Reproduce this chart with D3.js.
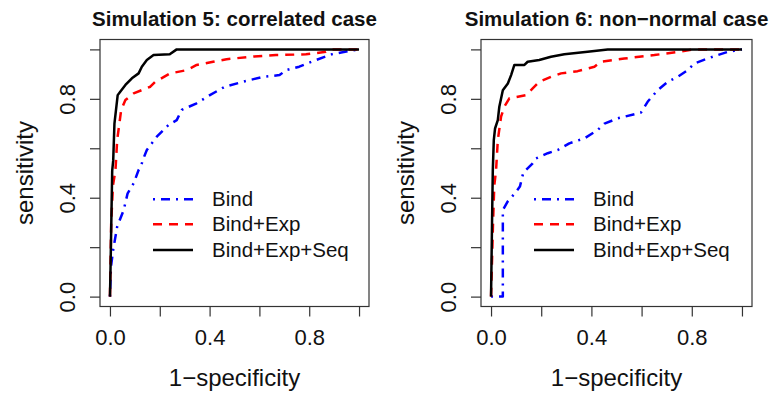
<!DOCTYPE html>
<html>
<head>
<meta charset="utf-8">
<script src="https://cdn.jsdelivr.net/npm/d3@7/dist/d3.min.js"></script>
<style>
  body { margin: 0; background: #fff; }
  svg text { font-family: "Liberation Sans", Arial, Helvetica, sans-serif; fill: #111; }
</style>
</head>
<body>
<div id="chart"></div>
<script>
// ROC points: [1 - specificity, sensitivity]
const sim5Bind = [
  [0, 0], [0.004, 0.12], [0.013, 0.19], [0.029, 0.283], [0.055, 0.35], [0.071, 0.418],
  [0.095, 0.458], [0.115, 0.512], [0.124, 0.525], [0.132, 0.553], [0.148, 0.593],
  [0.188, 0.647], [0.235, 0.694], [0.268, 0.714], [0.288, 0.755], [0.348, 0.782],
  [0.401, 0.815], [0.461, 0.849], [0.534, 0.869], [0.614, 0.889], [0.681, 0.896],
  [0.707, 0.916], [0.76, 0.93], [0.827, 0.957], [0.89, 0.98], [0.973, 0.996], [1, 1]
];
const sim5BindExp = [
  [0, 0], [0.005, 0.3], [0.012, 0.45], [0.022, 0.51], [0.029, 0.633], [0.045, 0.755],
  [0.062, 0.795], [0.095, 0.822], [0.162, 0.849], [0.182, 0.869], [0.242, 0.903],
  [0.308, 0.916], [0.348, 0.937], [0.414, 0.95], [0.468, 0.96], [0.561, 0.97],
  [0.667, 0.977], [0.787, 0.98], [0.867, 0.99], [0.89, 1], [1, 1]
];
const sim5BindExpSeq = [
  [0, 0], [0.002, 0.1], [0.009, 0.51], [0.013, 0.55], [0.018, 0.7], [0.031, 0.815],
  [0.042, 0.83], [0.062, 0.856], [0.088, 0.883], [0.115, 0.903], [0.128, 0.93],
  [0.148, 0.957], [0.175, 0.977], [0.24, 0.98], [0.268, 1], [1, 1]
];
const sim6Bind = [
  [0, 0], [0.047, 0], [0.047, 0.35], [0.066, 0.384], [0.095, 0.418], [0.115, 0.445],
  [0.128, 0.499], [0.139, 0.512], [0.166, 0.539], [0.179, 0.559], [0.226, 0.58],
  [0.266, 0.593], [0.312, 0.62], [0.372, 0.64], [0.425, 0.674], [0.452, 0.7],
  [0.505, 0.721], [0.584, 0.741], [0.598, 0.745], [0.624, 0.788], [0.664, 0.835],
  [0.704, 0.869], [0.744, 0.889], [0.784, 0.916], [0.81, 0.943], [0.863, 0.963],
  [0.903, 0.977], [0.943, 0.99], [1, 1]
];
const sim6BindExp = [
  [0, 0], [0.008, 0.3], [0.013, 0.45], [0.02, 0.51], [0.027, 0.633], [0.04, 0.728],
  [0.053, 0.768], [0.073, 0.802], [0.139, 0.815], [0.166, 0.842], [0.192, 0.869],
  [0.239, 0.889], [0.279, 0.903], [0.345, 0.912], [0.412, 0.93], [0.438, 0.95],
  [0.531, 0.963], [0.651, 0.977], [0.744, 0.99], [0.81, 1], [1, 1]
];
const sim6BindExpSeq = [
  [0, 0], [0.004, 0.3], [0.007, 0.51], [0.011, 0.633], [0.016, 0.68], [0.027, 0.714],
  [0.033, 0.768], [0.047, 0.835], [0.067, 0.862], [0.08, 0.896], [0.093, 0.937],
  [0.133, 0.937], [0.146, 0.95], [0.192, 0.957], [0.239, 0.97], [0.292, 0.98],
  [0.385, 0.99], [0.465, 1], [1, 1]
];

const titles = ['Simulation 5: correlated case', 'Simulation 6: non\u2212normal case'];
const seriesNames = ['Bind', 'Bind+Exp', 'Bind+Exp+Seq'];
const tickValues = [0, 0.2, 0.4, 0.6, 0.8, 1];
const labelledTicks = [0, 0.4, 0.8];

const STYLES = [
  { color: '#0000ff', dash: '2,6,9,6' },
  { color: '#ff0000', dash: '9,7' },
  { color: '#000000', dash: null }
];

const WIDTH = 773;
const HEIGHT = 401;
const BOXES = [
  { left: 100, right: 369 },
  { left: 481, right: 752 }
];
const TOP = 39.5;
const BOTTOM = 306.5;

const svg = d3.select('#chart')
  .append('svg')
  .attr('width', WIDTH)
  .attr('height', HEIGHT);

const panels = [
  [sim5Bind, sim5BindExp, sim5BindExpSeq],
  [sim6Bind, sim6BindExp, sim6BindExpSeq]
];

panels.forEach((series, i) => {
  const box = BOXES[i];
  const x = d3.scaleLinear().domain([-0.04, 1.04]).range([box.left, box.right]);
  const y = d3.scaleLinear().domain([-0.04, 1.04]).range([BOTTOM, TOP]);
  const fmt = d => labelledTicks.includes(d) ? d3.format('.1f')(d) : '';

  const g = svg.append('g');

  // curves
  const line = d3.line().x(d => x(d[0])).y(d => y(d[1]));
  series.forEach((data, k) => {
    g.append('path')
      .datum(data)
      .attr('fill', 'none')
      .attr('stroke', STYLES[k].color)
      .attr('stroke-width', 2.5)
      .attr('stroke-dasharray', STYLES[k].dash)
      .attr('stroke-linejoin', 'round')
      .attr('d', line);
  });

  // box
  g.append('rect')
    .attr('x', box.left)
    .attr('y', TOP)
    .attr('width', box.right - box.left)
    .attr('height', BOTTOM - TOP)
    .attr('fill', 'none')
    .attr('stroke', '#333')
    .attr('stroke-width', 1.2);

  // x axis
  const gx = g.append('g')
    .attr('transform', `translate(0,${BOTTOM})`)
    .call(d3.axisBottom(x).tickValues(tickValues).tickSize(10).tickPadding(13).tickFormat(fmt));
  gx.select('.domain').remove();
  gx.selectAll('.tick line').attr('stroke', '#333').attr('stroke-width', 1.2);
  gx.selectAll('.tick text')
    .attr('fill', '#111')
    .style('font-size', '22px')
    .style('font-family', '"Liberation Sans", Arial, sans-serif');

  // y axis
  const gy = g.append('g')
    .attr('transform', `translate(${box.left},0)`)
    .call(d3.axisLeft(y).tickValues(tickValues).tickSize(10).tickFormat(fmt));
  gy.select('.domain').remove();
  gy.selectAll('.tick line').attr('stroke', '#333').attr('stroke-width', 1.2);
  gy.selectAll('.tick text')
    .attr('fill', '#111')
    .attr('transform', 'rotate(-90)')
    .attr('x', 0)
    .attr('y', -25)
    .attr('dy', null)
    .attr('text-anchor', 'middle')
    .style('font-size', '22px')
    .style('font-family', '"Liberation Sans", Arial, sans-serif');

  const cx = (box.left + box.right) / 2;

  // title
  g.append('text')
    .attr('x', cx)
    .attr('y', 26)
    .attr('text-anchor', 'middle')
    .style('font-size', '20.5px')
    .style('font-weight', 'bold')
    .text(titles[i]);

  // axis labels
  g.append('text')
    .attr('x', cx)
    .attr('y', 386)
    .attr('text-anchor', 'middle')
    .style('font-size', '24px')
    .text('1\u2212specificity');

  g.append('text')
    .attr('transform', `translate(${box.left - 67},${(TOP + BOTTOM) / 2}) rotate(-90)`)
    .attr('text-anchor', 'middle')
    .style('font-size', '24px')
    .text('sensitivity');

  // legend
  const legendY = [199.3, 224.3, 250];
  seriesNames.forEach((name, k) => {
    g.append('line')
      .attr('x1', box.left + 53)
      .attr('x2', box.left + 93)
      .attr('y1', legendY[k])
      .attr('y2', legendY[k])
      .attr('stroke', STYLES[k].color)
      .attr('stroke-width', 2.5)
      .attr('stroke-dasharray', STYLES[k].dash);
    g.append('text')
      .attr('x', box.left + 112)
      .attr('y', legendY[k])
      .attr('dy', '0.35em')
      .style('font-size', '20.5px')
      .text(name);
  });
});
</script>
</body>
</html>
